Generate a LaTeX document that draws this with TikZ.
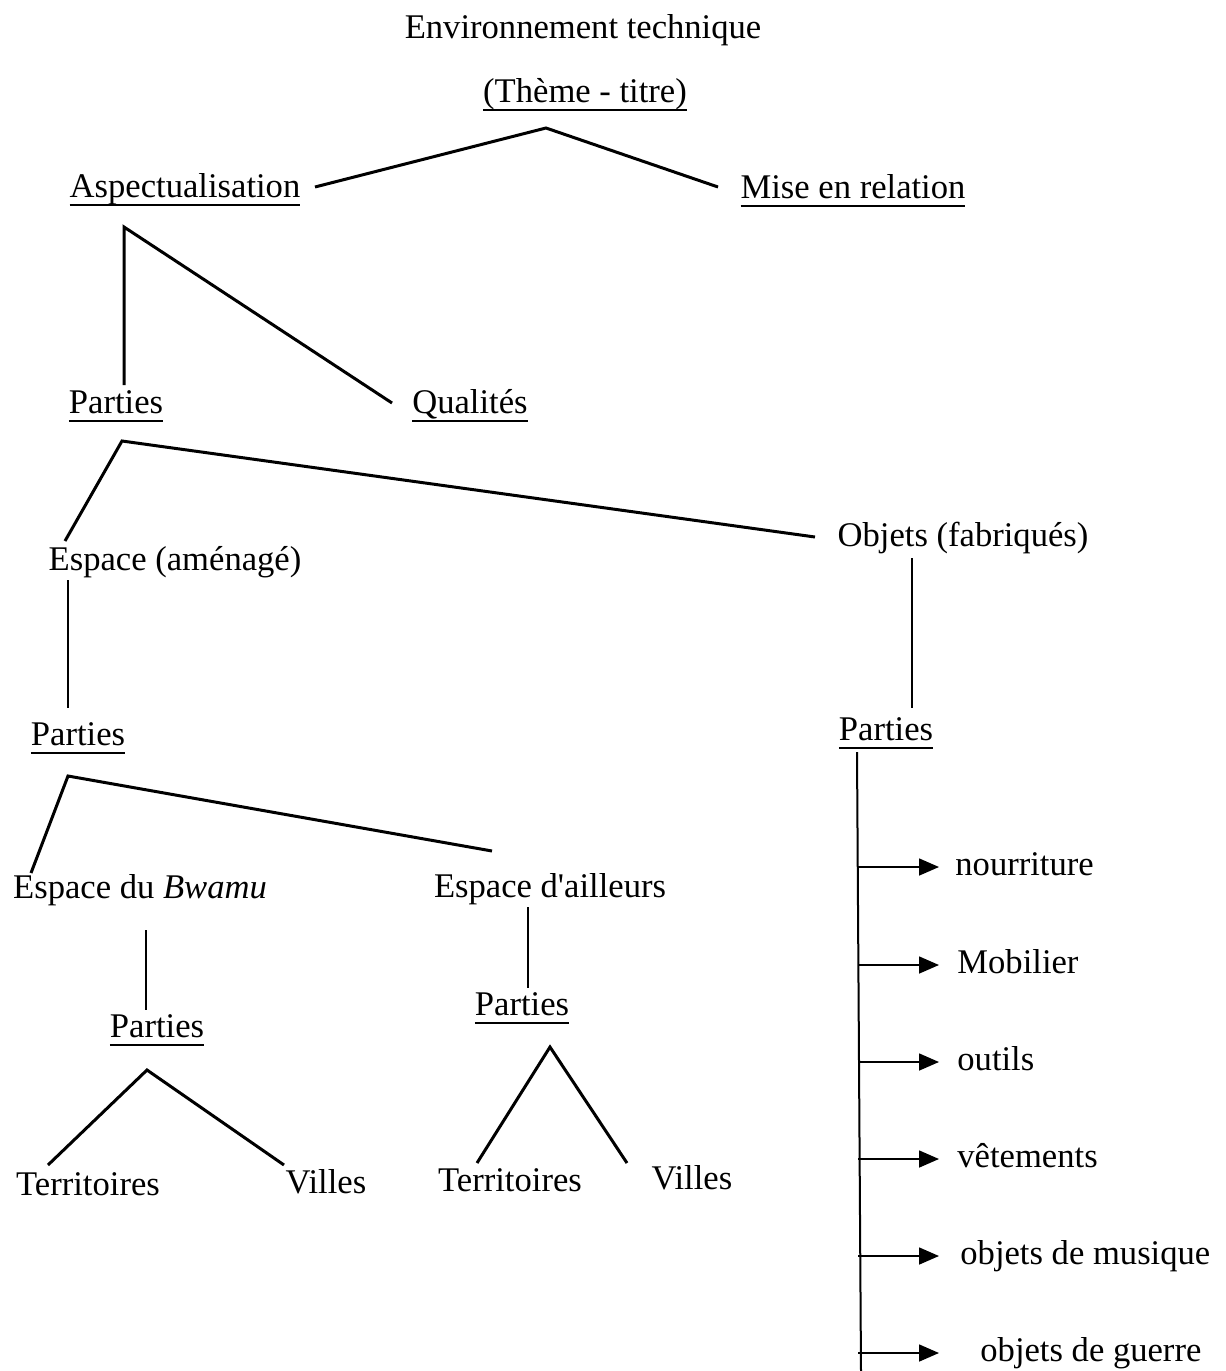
\documentclass[tikz,border=0pt]{standalone}
\usepackage{fontspec}
\setmainfont{Liberation Serif}
\usetikzlibrary{arrows.meta}
\newcommand{\souligne}[1]{\setbox0\hbox{#1}\rlap{\rule[-4.6pt]{\wd0}{1.1pt}}\box0}

\begin{document}
\begin{tikzpicture}[x=0.5pt, y=-0.5pt, font=\fontsize{17.3}{20}\selectfont,
    etiq/.style={inner sep=0pt, anchor=base},
    branche/.style={line width=1.5pt, line join=miter},
    tige/.style={line width=0.8pt},
    fleche/.style={line width=0.8pt, -{Triangle[length=10pt, width=8.5pt]}}]
    \useasboundingbox (0,0) rectangle (1226,1371);

    % Titre et theme
    \node[etiq] (env) at (583,38) {Environnement technique};
    \node[etiq] (theme) at (585,102) {\souligne{(Thème - titre)}};
    \node[etiq] (asp) at (185,197) {\souligne{Aspectualisation}};
    \node[etiq] (mise) at (853,198) {\souligne{Mise en relation}};
    \coordinate (sommetTheme) at (546,128);
    \coordinate (versAsp) at (315,187);
    \coordinate (versMise) at (718,187);
    \draw[branche] (versAsp) -- (sommetTheme) -- (versMise);

    % Aspectualisation
    \node[etiq] (partiesA) at (116,413) {\souligne{Parties}};
    \node[etiq] (qual) at (470,413) {\souligne{Qualités}};
    \coordinate (sommetAsp) at (124,227);
    \coordinate (versPartiesA) at (124,385);
    \coordinate (versQual) at (392,403);
    \draw[branche] (versPartiesA) -- (sommetAsp) -- (versQual);

    % Parties : espace et objets
    \node[etiq] (espAm) at (175,570) {Espace (aménagé)};
    \node[etiq] (objets) at (963,546) {Objets (fabriqués)};
    \coordinate (sommetParties) at (122,441);
    \coordinate (versEspAm) at (65,541);
    \coordinate (versObjets) at (815,537);
    \draw[branche] (versEspAm) -- (sommetParties) -- (versObjets);

    % Espace (amenage)
    \node[etiq] (partiesEsp) at (78,745) {\souligne{Parties}};
    \coordinate (basEspAm) at (68,580);
    \coordinate (hautPartiesEsp) at (68,708);
    \draw[tige] (basEspAm) -- (hautPartiesEsp);
    \node[etiq] (bwamu) at (140,898) {Espace du \textit{Bwamu}};
    \node[etiq] (ailleurs) at (550,897) {Espace d\textquotesingle ailleurs};
    \coordinate (sommetEsp) at (68,776);
    \coordinate (versBwamu) at (31,873);
    \coordinate (versAilleurs) at (492,851);
    \draw[branche] (versBwamu) -- (sommetEsp) -- (versAilleurs);

    % Espace du Bwamu
    \node[etiq] (partiesBw) at (157,1037) {\souligne{Parties}};
    \coordinate (basBwamu) at (146,930);
    \coordinate (hautPartiesBw) at (146,1010);
    \draw[tige] (basBwamu) -- (hautPartiesBw);
    \node[etiq] (terrBw) at (88,1195) {Territoires};
    \node[etiq] (villesBw) at (326,1193) {Villes};
    \coordinate (sommetBw) at (147,1070);
    \coordinate (versTerrBw) at (48,1165);
    \coordinate (versVillesBw) at (284,1165);
    \draw[branche] (versTerrBw) -- (sommetBw) -- (versVillesBw);

    % Espace d'ailleurs
    \node[etiq] (partiesAil) at (522,1015) {\souligne{Parties}};
    \coordinate (basAilleurs) at (528,907);
    \coordinate (hautPartiesAil) at (528,988);
    \draw[tige] (basAilleurs) -- (hautPartiesAil);
    \node[etiq] (terrAil) at (510,1191) {Territoires};
    \node[etiq] (villesAil) at (692,1189) {Villes};
    \coordinate (sommetAil) at (550,1047);
    \coordinate (versTerrAil) at (477,1163);
    \coordinate (versVillesAil) at (627,1163);
    \draw[branche] (versTerrAil) -- (sommetAil) -- (versVillesAil);

    % Objets (fabriques)
    \node[etiq] (partiesObj) at (886,740) {\souligne{Parties}};
    \coordinate (basObjets) at (912,558);
    \coordinate (hautPartiesObj) at (912,708);
    \draw[tige] (basObjets) -- (hautPartiesObj);
    \coordinate (troncHaut) at (857,752);
    \coordinate (troncBas) at (861,1371);
    \draw[line width=1pt] (troncHaut) -- (troncBas);
    % Fleches vers les parties
    \foreach \y/\xl/\txt [count=\i] in {867/955/nourriture, 965/957/Mobilier, 1062/957/outils,
        1159/957/vêtements, 1256/960/objets de musique, 1353/980/objets de guerre}{
        \node[etiq, anchor=base west] (obj\i) at (\xl,\y+8) {\txt};
        \coordinate (pied\i) at (858,\y);
        \coordinate (pointe\i) at (939,\y);
        \draw[fleche] (pied\i) -- (pointe\i);
    };
\end{tikzpicture}
\end{document}
